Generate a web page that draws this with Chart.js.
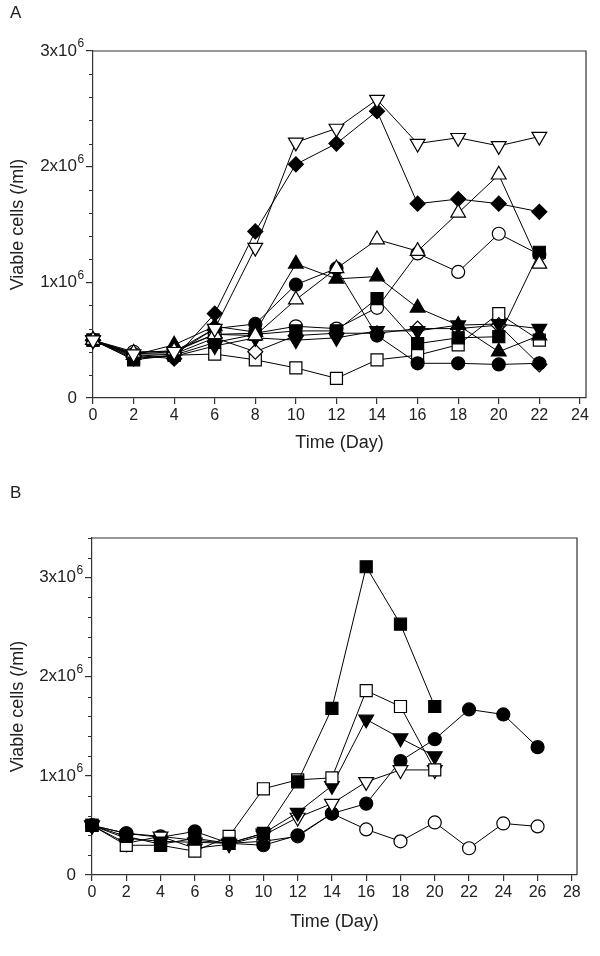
<!DOCTYPE html>
<html><head><meta charset="utf-8">
<script src="https://cdn.jsdelivr.net/npm/chart.js@4.4.0/dist/chart.umd.min.js"></script>
<style>
html,body{margin:0;padding:0;background:#fff;width:600px;height:956px;overflow:hidden;}
.panel{position:absolute;left:0;width:600px;}
#wa{top:0;height:470px;}
#wb{top:478px;height:478px;}
.lab{position:absolute;left:10px;font:17px "Liberation Sans",Arial,sans-serif;color:#222;}
</style></head><body>
<div id="wa" class="panel"><canvas id="ca"></canvas></div>
<div id="wb" class="panel"><canvas id="cb"></canvas></div>
<div class="lab" style="top:3px">A</div>
<div class="lab" style="top:483px">B</div>
<script>
// ---------- DATA (viable cells, x10^6 /ml) ----------
const daysA = [0,2,4,6,8,10,12,14,16,18,20,22];
const aOpenInvTri    = [0.50,0.38,0.40,0.60,1.30,2.21,2.33,2.58,2.20,2.25,2.18,2.26];
const aFilledDiamond = [0.50,0.37,0.34,0.73,1.44,2.02,2.20,2.48,1.68,1.72,1.68,1.61];
const aOpenTri       = [0.50,0.39,0.41,0.55,0.54,0.85,1.12,1.37,1.27,1.60,1.93,1.16];
const aOpenCircle    = [0.50,0.40,0.40,0.55,0.56,0.62,0.60,0.78,1.25,1.09,1.42,1.24];
const aOpenSquare    = [0.50,0.34,0.37,0.38,0.33,0.26,0.17,0.33,0.37,0.46,0.73,0.50];
const aFilledSquare  = [0.50,0.33,0.37,0.48,0.55,0.58,0.58,0.86,0.47,0.52,0.53,1.26];
const aFilledCircle  = [0.50,0.38,0.38,0.60,0.64,0.98,1.12,0.54,0.30,0.30,0.29,0.30];
const aFilledTri     = [0.50,0.37,0.46,0.62,0.57,1.16,1.03,1.05,0.78,0.63,0.40,0.54];
const aFilledInvTri  = [0.50,0.35,0.36,0.45,0.52,0.50,0.52,0.58,0.58,0.63,0.64,0.60];
const aOpenDiamond   = [0.50,0.36,0.38,0.52,0.40,0.54,0.56,0.56,0.60,0.60,0.63,0.29];

const daysB = [0,2,4,6,8,10,12,14,16,18,20,22,24,26];
const bFilledSquare  = [0.50,0.39,0.31,0.37,0.32,0.42,0.94,1.68,3.11,2.53,1.70];
const bOpenSquare    = [0.50,0.30,0.30,0.24,0.39,0.87,0.96,0.98,1.86,1.70,1.06];
const bFilledInvTri  = [0.50,0.37,0.34,0.33,0.32,0.42,0.63,0.90,1.57,1.38,1.20];
const bOpenInvTri    = [0.50,0.32,0.39,0.27,0.31,0.40,0.58,0.72,0.94,1.06,1.06];
const bFilledCircle  = [0.50,0.42,0.38,0.44,0.32,0.30,0.40,0.62,0.72,1.15,1.37,1.67,1.62,1.29];
const bOpenCircle    = [0.50,0.42,0.39,0.35,0.32,0.34,0.39,0.62,0.46,0.34,0.53,0.27,0.52,0.49];

const xTicksA = [0,2,4,6,8,10,12,14,16,18,20,22,24];
const xTicksB = [0,2,4,6,8,10,12,14,16,18,20,22,24,26,28];
const yTicksA = [0,1,2,3];
const yTicksB = [0,1,2,3];
const UNIT = 1e6;
const EXP = '6';

// ---------- STYLE ----------
const INK = '#333';
const FONT = '"Liberation Sans", Arial, sans-serif';
const YPAD = 9;
const shapes = {
  circle:  {pointStyle:'circle',   radius:6.5, rot:0},
  square:  {pointStyle:'rect',     radius:8.5, rot:0},
  diamond: {pointStyle:'rectRot',  radius:7.5, rot:0},
  tri:     {pointStyle:'triangle', radius:8.5, rot:0},
  invtri:  {pointStyle:'triangle', radius:8.5, rot:180}
};
function ds(days, vals, shape, filled){
  const s = shapes[shape];
  return {
    data: vals.map((v,i)=>({x:days[i], y:v*UNIT})),
    borderColor:'#000', borderWidth:1, clip:false,
    pointStyle:s.pointStyle, pointRadius:s.radius, pointRotation:s.rot,
    pointBackgroundColor: filled ? '#000' : '#fff',
    pointBorderColor:'#000', pointBorderWidth:1.2,
    showLine:true, tension:0, fill:false
  };
}
const frame = {
  id:'frame',
  afterDraw(chart){
    const {ctx, chartArea:a, scales:{y}} = chart;
    ctx.save();
    ctx.strokeStyle = INK; ctx.lineWidth = 1.2;
    ctx.beginPath();
    ctx.moveTo(a.left, a.top); ctx.lineTo(a.right, a.top); ctx.lineTo(a.right, a.bottom);
    ctx.stroke();
    // minor ticks every 0.2 x10^6
    ctx.lineWidth = 1;
    for (let k=1; k*0.2*UNIT <= y.max+1; k++){
      if (k%5===0) continue;
      const py = Math.round(y.getPixelForValue(k*0.2*UNIT))+0.5;
      ctx.beginPath(); ctx.moveTo(a.left-4, py); ctx.lineTo(a.left, py); ctx.stroke();
    }
    // superscript exponents on y tick labels
    ctx.fillStyle = '#222';
    ctx.font = '12px ' + FONT;
    ctx.textAlign = 'left'; ctx.textBaseline = 'middle';
    y.ticks.forEach(t=>{
      if (t.value === 0) return;
      const py = y.getPixelForValue(t.value);
      ctx.fillText(EXP, a.left - 7 - YPAD + 0.5, py - 7);
    });
    ctx.restore();
  }
};
function make(id, datasets, xmax, xticks, ymax, yticks, opt){
  return new Chart(document.getElementById(id), {
    type:'scatter',
    data:{datasets},
    plugins:[frame],
    options:{
      responsive:true, maintainAspectRatio:false, animation:false,
      layout:{padding:{top:opt.top, right:opt.right, left:0, bottom:0}},
      plugins:{legend:{display:false}, tooltip:{enabled:false}},
      scales:{
        x:{
          type:'linear', min:0, max:xmax,
          afterBuildTicks:s=>{s.ticks = xticks.map(v=>({value:v}));},
          afterFit:s=>{s.height = opt.xh;},
          grid:{drawOnChartArea:false, drawTicks:true, tickLength:6, color:INK, lineWidth:1.2},
          border:{display:true, color:INK, width:1.2},
          ticks:{color:'#222', font:{family:FONT, size:16}, padding:2, maxRotation:0, autoSkip:false},
          title:{display:true, text:'Time (Day)', color:'#222', font:{family:FONT, size:18}, padding:{top:0,bottom:opt.tpb}}
        },
        y:{
          type:'linear', min:0, max:ymax*UNIT,
          afterBuildTicks:s=>{s.ticks = yticks.map(v=>({value:v*UNIT}));},
          afterFit:s=>{s.width = opt.yw;},
          grid:{drawOnChartArea:false, drawTicks:true, tickLength:7, color:INK, lineWidth:1.2},
          border:{display:true, color:INK, width:1.2},
          ticks:{color:'#222', font:{family:FONT, size:17}, padding:YPAD,
                 callback:v => v===0 ? '0' : (v/UNIT)+'x10'},
          title:{display:true, text:'Viable cells (/ml)', color:'#222', font:{family:FONT, size:18}, padding:{top:7,bottom:0}}
        }
      }
    }
  });
}
make('ca', [
  ds(daysA, aOpenInvTri,'invtri',false),
  ds(daysA, aOpenTri,'tri',false),
  ds(daysA, aFilledDiamond,'diamond',true),
  ds(daysA, aFilledSquare,'square',true),
  ds(daysA, aFilledCircle,'circle',true),
  ds(daysA, aOpenCircle,'circle',false),
  ds(daysA, aFilledTri,'tri',true),
  ds(daysA, aFilledInvTri,'invtri',true),
  ds(daysA, aOpenDiamond,'diamond',false),
  ds(daysA, aOpenSquare,'square',false)
], 24.3, xTicksA, 3, yTicksA, {top:51, right:14, xh:72, yw:93, tpb:16});
make('cb', [
  ds(daysB, bFilledSquare,'square',true),
  ds(daysB, bOpenSquare,'square',false),
  ds(daysB, bFilledInvTri,'invtri',true),
  ds(daysB, bOpenInvTri,'invtri',false),
  ds(daysB, bFilledCircle,'circle',true),
  ds(daysB, bOpenCircle,'circle',false)
], 28.3, xTicksB, 3.4, yTicksB, {top:60, right:23, xh:81, yw:92, tpb:23});
</script>
</body></html>
